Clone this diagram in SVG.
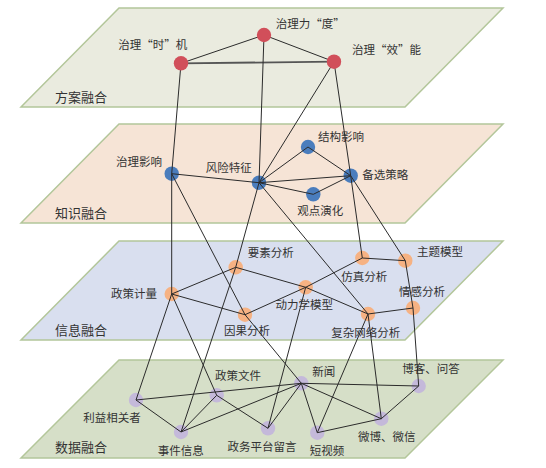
<svg xmlns="http://www.w3.org/2000/svg" width="546" height="468" viewBox="0 0 546 468">
<style>
.plane{stroke:#b3c69a;stroke-width:1.5}
.pl{font-family:"Noto Sans CJK SC","Noto Sans",sans-serif;font-size:13px;fill:#333}
.lb{font-family:"Noto Sans CJK SC","Noto Sans",sans-serif;font-size:11.5px;fill:#333}
.e{stroke:#2b2b2b;stroke-width:1;fill:none}
.r{fill:#d14f5a}
.b{fill:#4a7dbd}
.o{fill:#f6b283}
.v{fill:#c4b9da}
</style>
<rect width="546" height="468" fill="#fff"/>
<g id="planes">
<polygon class="plane" points="119,8 503,8 405,107 21,107" fill="#eaebdf"/>
<text class="pl" x="55" y="101.5">方案融合</text>
<polygon class="plane" points="119,124 503,124 405,223 21,223" fill="#f6e4d6"/>
<text class="pl" x="55" y="217.5">知识融合</text>
<polygon class="plane" points="119,241 503,241 405,340 21,340" fill="#d9dfef"/>
<text class="pl" x="55" y="334.5">信息融合</text>
<polygon class="plane" points="119,360 503,360 405,458 21,458" fill="#d6dfc8"/>
<text class="pl" x="55" y="451.5">数据融合</text>
</g>
<g id="n-zhiliyingxiang"><circle class="b" cx="171.7" cy="173.7" r="7.2"/><text class="lb" x="116" y="166.3">治理影响</text></g>
<g id="n-fengxian"><circle class="b" cx="259" cy="182.7" r="7.2"/><text class="lb" x="205.7" y="172">风险特征</text></g>
<g id="n-jiegou"><circle class="b" cx="308" cy="147" r="7.2"/><text class="lb" x="318" y="141.3">结构影响</text></g>
<g id="n-beixuan"><circle class="b" cx="350.7" cy="175.7" r="7.2"/><text class="lb" x="362.3" y="179.3">备选策略</text></g>
<g id="n-guandian"><circle class="b" cx="313.3" cy="194.3" r="7.2"/><text class="lb" x="297.3" y="215.3">观点演化</text></g>
<g id="n-zhengce"><circle class="o" cx="171.7" cy="294" r="7.2"/><text class="lb" x="111" y="298.3">政策计量</text></g>
<g id="n-yaosu"><circle class="o" cx="235.7" cy="267.3" r="7.2"/><text class="lb" x="247.7" y="256.6">要素分析</text></g>
<g id="n-yinguo"><circle class="o" cx="245" cy="314.7" r="7.2"/><text class="lb" x="224" y="335">因果分析</text></g>
<g id="n-donglixue"><circle class="o" cx="305.7" cy="287.3" r="7.2"/><text class="lb" x="275.5" y="309.3">动力学模型</text></g>
<g id="n-fangzhen"><circle class="o" cx="362.3" cy="258" r="7.2"/><text class="lb" x="341.3" y="281">仿真分析</text></g>
<g id="n-zhuti"><circle class="o" cx="405.3" cy="260.7" r="7.2"/><text class="lb" x="417" y="256">主题模型</text></g>
<g id="n-qinggan"><circle class="o" cx="413" cy="308" r="7.2"/><text class="lb" x="399" y="295.6">情感分析</text></g>
<g id="n-fuza"><circle class="o" cx="368" cy="314" r="7.2"/><text class="lb" x="331.3" y="336.6">复杂网络分析</text></g>
<g id="n-liyi"><circle class="v" cx="136" cy="400" r="7.2"/><text class="lb" x="83.3" y="422">利益相关者</text></g>
<g id="n-wenjian"><circle class="v" cx="216.7" cy="395.3" r="7.2"/><text class="lb" x="215" y="380.3">政策文件</text></g>
<g id="n-shijian"><circle class="v" cx="181" cy="432" r="7.2"/><text class="lb" x="157.7" y="454.6">事件信息</text></g>
<g id="n-liuyan"><circle class="v" cx="268" cy="428.3" r="7.2"/><text class="lb" x="227.5" y="451">政务平台留言</text></g>
<g id="n-xinwen"><circle class="v" cx="301.3" cy="383.3" r="7.2"/><text class="lb" x="312.3" y="376">新闻</text></g>
<g id="n-duanshipin"><circle class="v" cx="317.3" cy="432.7" r="7.2"/><text class="lb" x="309.7" y="454.6">短视频</text></g>
<g id="n-weibo"><circle class="v" cx="381.3" cy="418.7" r="7.2"/><text class="lb" x="358" y="441.3">微博、微信</text></g>
<g id="n-boke"><circle class="v" cx="418.7" cy="386" r="7.2"/><text class="lb" x="402.3" y="373">博客、问答</text></g>
<g id="connectors">
<line class="e" x1="181" y1="63.3" x2="264" y2="35" stroke-width="1.3"/>
<line class="e" x1="264" y1="35" x2="334" y2="61.7" stroke-width="1.3"/>
<line x1="181" y1="63.3" x2="334" y2="61.7" stroke="#555" stroke-width="1.8"/>
<line class="e" x1="181" y1="63.3" x2="171.7" y2="173.7"/>
<line class="e" x1="264" y1="35" x2="259" y2="182.7"/>
<line class="e" x1="334" y1="61.7" x2="259" y2="182.7"/>
<line class="e" x1="334" y1="61.7" x2="350.7" y2="175.7"/>
<line class="e" x1="171.7" y1="173.7" x2="259" y2="182.7"/>
<line class="e" x1="259" y1="182.7" x2="308" y2="147"/>
<line class="e" x1="259" y1="182.7" x2="350.7" y2="175.7"/>
<line class="e" x1="259" y1="182.7" x2="313.3" y2="194.3"/>
<line class="e" x1="308" y1="147" x2="350.7" y2="175.7"/>
<line class="e" x1="313.3" y1="194.3" x2="350.7" y2="175.7"/>
<line class="e" x1="171.7" y1="173.7" x2="171.7" y2="294"/>
<line class="e" x1="171.7" y1="173.7" x2="245" y2="314.7"/>
<line class="e" x1="259" y1="182.7" x2="235.7" y2="267.3"/>
<line class="e" x1="259" y1="182.7" x2="368" y2="314"/>
<line class="e" x1="350.7" y1="175.7" x2="362.3" y2="258"/>
<line class="e" x1="350.7" y1="175.7" x2="405.3" y2="260.7"/>
<line class="e" x1="171.7" y1="294" x2="235.7" y2="267.3"/>
<line class="e" x1="171.7" y1="294" x2="245" y2="314.7"/>
<line class="e" x1="235.7" y1="267.3" x2="305.7" y2="287.3"/>
<line class="e" x1="245" y1="314.7" x2="305.7" y2="287.3"/>
<line class="e" x1="305.7" y1="287.3" x2="362.3" y2="258"/>
<line class="e" x1="305.7" y1="287.3" x2="368" y2="314"/>
<line class="e" x1="362.3" y1="258" x2="405.3" y2="260.7"/>
<line class="e" x1="405.3" y1="260.7" x2="413" y2="308"/>
<line class="e" x1="413" y1="308" x2="368" y2="314"/>
<line class="e" x1="171.7" y1="294" x2="136" y2="400"/>
<line class="e" x1="171.7" y1="294" x2="216.7" y2="395.3"/>
<line class="e" x1="235.7" y1="267.3" x2="181" y2="432"/>
<line class="e" x1="245" y1="314.7" x2="301.3" y2="383.3"/>
<line class="e" x1="305.7" y1="287.3" x2="268" y2="428.3"/>
<line class="e" x1="368" y1="314" x2="317.3" y2="432.7"/>
<line class="e" x1="368" y1="314" x2="381.3" y2="418.7"/>
<line class="e" x1="413" y1="308" x2="418.7" y2="386"/>
<line class="e" x1="136" y1="400" x2="301.3" y2="383.3"/>
<line class="e" x1="136" y1="400" x2="181" y2="432"/>
<line class="e" x1="216.7" y1="395.3" x2="181" y2="432"/>
<line class="e" x1="181" y1="432" x2="301.3" y2="383.3"/>
<line class="e" x1="216.7" y1="395.3" x2="268" y2="428.3"/>
<line class="e" x1="268" y1="428.3" x2="301.3" y2="383.3"/>
<line class="e" x1="301.3" y1="383.3" x2="317.3" y2="432.7"/>
<line class="e" x1="301.3" y1="383.3" x2="418.7" y2="386"/>
<line class="e" x1="301.3" y1="383.3" x2="381.3" y2="418.7"/>
<line class="e" x1="317.3" y1="432.7" x2="381.3" y2="418.7"/>
<line class="e" x1="381.3" y1="418.7" x2="418.7" y2="386"/>
</g>
<g id="n-shiji"><circle class="r" cx="181" cy="63.3" r="7.2"/><text class="lb" x="118.3" y="49.3">治理“时”机</text></g>
<g id="n-du"><circle class="r" cx="264" cy="35" r="7.2"/><text class="lb" x="275.7" y="27.6">治理力“度”</text></g>
<g id="n-xiaoneng"><circle class="r" cx="334" cy="61.7" r="7.2"/><text class="lb" x="352" y="53.6">治理“效”能</text></g>
</svg>
